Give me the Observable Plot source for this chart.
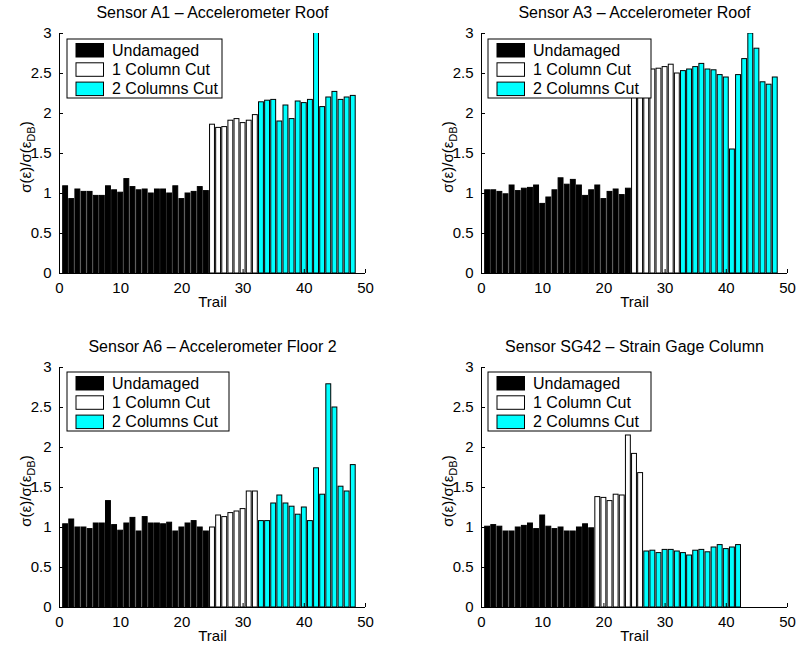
<!DOCTYPE html>
<html><head><meta charset="utf-8">
<script src="https://cdn.jsdelivr.net/npm/d3@7"></script>
<script src="https://cdn.jsdelivr.net/npm/@observablehq/plot@0.6"></script>
<style>
body{margin:0;background:#fff;}
#wrap{position:relative;width:800px;height:653px;overflow:hidden;background:#fff;font-family:"Liberation Sans",Arial,sans-serif;}
#wrap svg{position:absolute;}
</style></head><body><div id="wrap"></div>
<script>
const FONT = '"Liberation Sans", Arial, Helvetica, sans-serif';
const states = ["Undamaged", "1 Column Cut", "2 Columns Cut"];
const stateColors = ["#000000", "#ffffff", "#00ffff"];
const xTicks = [0, 10, 20, 30, 40, 50];
const yTicks = [0, 0.5, 1, 1.5, 2, 2.5, 3];
const yTickLabels = ["0", "0.5", "1", "1.5", "2", "2.5", "3"];
const xLabel = "Trail";

const titleA1 = "Sensor A1 \u2013 Accelerometer Roof";
const titleA3 = "Sensor A3 \u2013 Accelerometer Roof";
const titleA6 = "Sensor A6 \u2013 Accelerometer Floor 2";
const titleSG42 = "Sensor SG42 \u2013 Strain Gage Column";

// bar counts per damage state (Undamaged, 1 Column Cut, 2 Columns Cut)
const countsA1 = [24, 8, 16];
const countsA3 = [24, 8, 16];
const countsA6 = [24, 8, 16];
const countsSG42 = [18, 8, 16];

const valuesA1 = [1.09,0.93,1.05,1.02,1.02,0.97,0.97,1.09,1.04,1.01,1.18,1.08,1.04,1.05,1.00,1.05,1.05,1.00,1.09,0.93,1.00,1.02,1.08,1.03,
  1.86,1.82,1.83,1.91,1.93,1.88,1.91,1.98,
  2.14,2.16,2.17,1.90,2.10,1.93,2.15,2.13,2.17,3.30,2.08,2.20,2.27,2.17,2.20,2.22];
const valuesA3 = [1.04,1.04,1.02,0.99,1.10,1.03,1.06,1.07,1.10,0.87,0.95,1.04,1.19,1.11,1.17,1.10,0.97,1.04,1.10,0.93,1.02,1.05,0.98,1.06,
  2.45,2.50,2.52,2.55,2.56,2.58,2.61,2.50,
  2.53,2.55,2.58,2.62,2.55,2.54,2.48,2.45,1.55,2.48,2.68,3.00,2.81,2.39,2.36,2.45];
const valuesA6 = [1.04,1.10,1.00,1.00,0.98,1.05,1.05,1.33,1.03,0.96,1.05,1.12,0.95,1.13,1.05,1.05,1.04,1.06,0.95,1.00,1.05,1.08,1.00,0.95,
  1.00,1.15,1.13,1.18,1.20,1.23,1.45,1.45,
  1.08,1.08,1.30,1.40,1.30,1.26,1.16,1.25,1.08,1.74,1.41,2.79,2.50,1.51,1.45,1.78];
const valuesSG42 = [1.01,1.03,1.01,0.95,0.95,1.00,1.02,1.05,0.98,1.15,1.01,0.98,1.00,0.95,0.95,1.00,1.04,0.99,
  1.38,1.37,1.33,1.41,1.40,2.15,1.92,1.68,
  0.70,0.71,0.68,0.72,0.72,0.70,0.68,0.65,0.71,0.72,0.69,0.75,0.78,0.73,0.75,0.78];

function toRows(values, counts) {
  const rows = [];
  let k = 0;
  counts.forEach((c, s) => {
    for (let j = 0; j < c; j++, k++) rows.push({trial: k + 1, value: values[k], state: states[s]});
  });
  return rows;
}

const panels = [
  {title: titleA1, values: valuesA1, counts: countsA1, left: 0, top: 0, ml: 59, mr: 35, lx: 67, ly: 39, lw: 155},
  {title: titleA3, values: valuesA3, counts: countsA3, left: 400, top: 0, ml: 81, mr: 13, lx: 88, ly: 39, lw: 163},
  {title: titleA6, values: valuesA6, counts: countsA6, left: 0, top: 334, ml: 59, mr: 35, lx: 67, ly: 38, lw: 162},
  {title: titleSG42, values: valuesSG42, counts: countsSG42, left: 400, top: 334, ml: 81, mr: 13, lx: 88, ly: 38, lw: 163}
];

const wrap = document.getElementById("wrap");
panels.forEach(p => {
  const data = toRows(p.values, p.counts);
  const chart = Plot.plot({
    width: 400, height: 320,
    marginLeft: p.ml, marginRight: p.mr, marginTop: 33, marginBottom: 47,
    style: {fontFamily: FONT, fontSize: "15px", color: "#000", background: "transparent", overflow: "visible"},
    x: {domain: [0, 50]},
    y: {domain: [0, 3]},
    color: {domain: states, range: stateColors},
    marks: [
      Plot.rect(data, {x1: d => d.trial - 0.4, x2: d => d.trial + 0.4, y1: 0, y2: "value", fill: "state", stroke: "#000", strokeWidth: 1, clip: true}),
      Plot.ruleY([0], {stroke: "#000"}),
      Plot.ruleX([0], {stroke: "#000"}),
      Plot.axisX(xTicks, {tickSize: -4, tickPadding: 13, label: null, fontSize: 15, stroke: "#000"}),
      Plot.axisY(yTicks, {tickSize: -4, tickPadding: 12, label: null, fontSize: 15, stroke: "#000",
        tickFormat: d => yTickLabels[yTicks.indexOf(d)]}),
      Plot.text([p.title], {frameAnchor: "top", lineAnchor: "middle", dy: -21, fontSize: 16, fill: "#000"}),
      Plot.text([xLabel], {frameAnchor: "bottom", lineAnchor: "middle", dy: 29, fontSize: 15, fill: "#000"})
    ]
  });
  chart.style.left = p.left + "px";
  chart.style.top = p.top + "px";
  const svg = d3.select(chart);
  // y label with subscript
  const t = svg.append("text")
    .attr("transform", `translate(${p.ml - 28},157) rotate(-90)`)
    .attr("text-anchor", "middle").attr("font-size", 15).attr("fill", "#000")
    .attr("font-family", FONT);
  t.append("tspan").text("\u03c3(\u03b5)/\u03c3(\u03b5");
  t.append("tspan").attr("dy", 4).attr("font-size", 11).text("DB");
  t.append("tspan").attr("dy", -4).text(")");
  // legend
  const g = svg.append("g").attr("transform", `translate(${p.lx},${p.ly})`)
    .attr("font-family", FONT).attr("text-anchor", "start");
  g.append("rect").attr("width", p.lw).attr("height", 59).attr("fill", "#fff").attr("stroke", "#000");
  states.forEach((s, i) => {
    g.append("rect").attr("x", 9).attr("y", 4.5 + i * 19.3).attr("width", 27.5).attr("height", 13.5)
      .attr("fill", stateColors[i]).attr("stroke", "#000");
    g.append("text").attr("x", 45).attr("y", 11.2 + i * 19.3).attr("dy", "0.35em")
      .attr("text-anchor", "start").attr("font-size", 16).attr("fill", "#000").text(s);
  });
  wrap.appendChild(chart);
});
</script>
</body></html>
